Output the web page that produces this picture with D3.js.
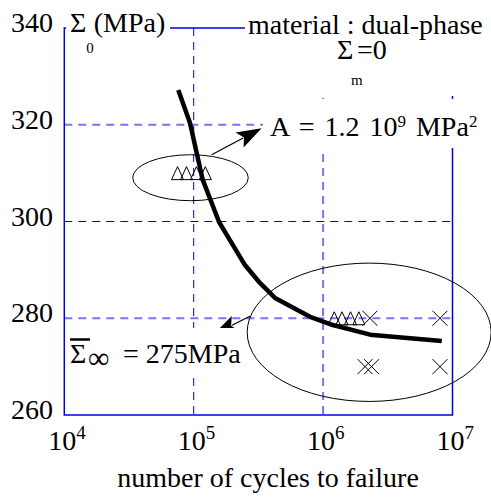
<!DOCTYPE html>
<html><head><meta charset="utf-8">
<script src="https://cdn.jsdelivr.net/npm/d3@7/dist/d3.min.js"></script>
<style>body{margin:0;background:#fff}svg{display:block}</style>
</head><body>
<script>
// ---- data ----
const xTicks = [1e4, 1e5, 1e6, 1e7];
const xTickExp = ["4", "5", "6", "7"];
const yTicks = [260, 280, 300, 320, 340];
const curveN = [76000, 93500, 117500, 157000, 180600, 249000, 325000, 425000, 793000, 1190000, 2310000, 8260000];
const curveS = [327.2, 320.4, 308.6, 299.9, 297.2, 291.0, 287.3, 284.2, 280.3, 278.6, 276.6, 275.3];
const tri310N = [75000, 88000, 105000, 123000];
const tri310S = [310, 310, 310, 310];
const tri280N = [1220000, 1400000, 1630000, 1890000];
const tri280S = [280, 280, 280, 280];
const crossN = [2300000, 8000000, 2110000, 2370000, 8000000];
const crossS = [280, 280, 270, 270, 270];

// ---- layout ----
const W = 491, H = 504;
const x = d3.scaleLog().domain([1e4, 1e7]).range([64.3, 452.5]);
const y = d3.scaleLinear().domain([260, 340]).range([415, 28]);
const FS = 28;
const FONT = '"Liberation Serif"';

const svg = d3.select("body").append("svg").attr("width", W).attr("height", H);

// grid lines
const gridDark = "#0000c8", gridLight = "#7777ee";
function hgrid(v, col, w) {
  svg.append("line").attr("x1", x(1e4)).attr("x2", x(1e7)).attr("y1", y(v)).attr("y2", y(v))
    .attr("stroke", col).attr("stroke-width", w).attr("stroke-dasharray", "8,6");
}
function vgrid(n, col, w) {
  svg.append("line").attr("x1", x(n)).attr("x2", x(n)).attr("y1", y(340)).attr("y2", y(260))
    .attr("stroke", col).attr("stroke-width", w).attr("stroke-dasharray", "8,6");
}
hgrid(320, gridLight, 2);
hgrid(300, gridDark, 1);
hgrid(280, gridLight, 2);
vgrid(1e5, gridDark, 1);
vgrid(1e6, gridLight, 2);

// frame
svg.append("rect").attr("x", x(1e4)).attr("y", y(340)).attr("width", x(1e7) - x(1e4)).attr("height", y(260) - y(340))
  .attr("fill", "none").attr("stroke", "#0000e6").attr("stroke-width", 1.5);

function txt(sel) { return sel.style("font-family", FONT).attr("fill", "#000"); }

// y tick labels
txt(svg.selectAll(".yt").data(yTicks).enter().append("text"))
  .attr("x", 53).attr("y", d => y(d) + 4).attr("text-anchor", "end").attr("font-size", FS).text(d => d);

// x tick labels
const xt = txt(svg.selectAll(".xt").data(xTicks).enter().append("text"))
  .attr("x", d => x(d) - 16).attr("y", 450).attr("font-size", FS);
xt.append("tspan").text("10");
xt.append("tspan").attr("dy", -11).attr("font-size", 19).text((d, i) => xTickExp[i]);

txt(svg.append("text")).attr("x", 268).attr("y", 487).attr("text-anchor", "middle")
  .attr("font-size", FS).text("number of cycles to failure");

// ellipses (data extents)
function ellipse(n0, n1, s0, s1) {
  const cx = (x(n0) + x(n1)) / 2, cy = (y(s0) + y(s1)) / 2;
  svg.append("ellipse").attr("cx", cx).attr("cy", cy)
    .attr("rx", Math.abs(x(n1) - x(n0)) / 2).attr("ry", Math.abs(y(s1) - y(s0)) / 2)
    .attr("fill", "none").attr("stroke", "#000").attr("stroke-width", 1);
}
ellipse(33800, 264000, 313.8, 304.3);
ellipse(259000, 1.99e7, 291.4, 262.8);

// triangles
function triangles(ns, ss) {
  svg.selectAll(null).data(ns).enter().append("path")
    .attr("d", (d, i) => {
      const cx = x(d), cy = y(ss[i]);
      return `M${cx - 6},${cy + 6.5}L${cx},${cy - 6.5}L${cx + 6},${cy + 6.5}Z`;
    })
    .attr("fill", "none").attr("stroke", "#000").attr("stroke-width", 1);
}
triangles(tri310N, tri310S);
triangles(tri280N, tri280S);

// crosses
svg.selectAll(".cr").data(crossN).enter().append("path")
  .attr("d", (d, i) => {
    const cx = x(d), cy = y(crossS[i]), r = 7.5;
    return `M${cx - r},${cy - r}L${cx + r},${cy + r}M${cx - r},${cy + r}L${cx + r},${cy - r}`;
  })
  .attr("stroke", "#000").attr("stroke-width", 1).attr("fill", "none");

// curve
const pts = curveN.map((n, i) => [n, curveS[i]]);
svg.append("path").datum(pts)
  .attr("d", d3.line().x(d => x(d[0])).y(d => y(d[1])))
  .attr("fill", "none").attr("stroke", "#000").attr("stroke-width", 4.5).attr("stroke-linejoin", "round");

// arrows
function arrow(n0, s0, n1, s1) {
  const x0 = x(n0), y0 = y(s0), x1 = x(n1), y1 = y(s1);
  const a = Math.atan2(y1 - y0, x1 - x0), L = 25, hw = 8.5;
  const bx = x1 - L * Math.cos(a), by = y1 - L * Math.sin(a);
  svg.append("line").attr("x1", x0).attr("y1", y0).attr("x2", bx + 4 * Math.cos(a)).attr("y2", by + 4 * Math.sin(a))
    .attr("stroke", "#000").attr("stroke-width", 1.2);
  const p1 = [bx + hw * Math.sin(a), by - hw * Math.cos(a)];
  const p2 = [bx - hw * Math.sin(a), by + hw * Math.cos(a)];
  const nx = x1 - 0.8 * L * Math.cos(a), ny = y1 - 0.8 * L * Math.sin(a);
  svg.append("path").attr("d", `M${x1},${y1}L${p1}L${nx},${ny}L${p2}Z`).attr("fill", "#000");
}
arrow(137700, 313.8, 335000, 319.3);
arrow(272000, 280.4, 141500, 276.6);

// text boxes (white backgrounds)
svg.append("rect").attr("x", 66).attr("y", 4).attr("width", 104).attr("height", 54).attr("fill", "#fff");
svg.append("rect").attr("x", 245).attr("y", 0).attr("width", 246).attr("height", 96).attr("fill", "#fff");
svg.append("rect").attr("x", 263).attr("y", 99).attr("width", 228).attr("height", 49).attr("fill", "#fff");
svg.append("rect").attr("x", 68).attr("y", 328).attr("width", 176).attr("height", 47).attr("fill", "#fff");

// Σ0(MPa)
const t1 = txt(svg.append("text")).attr("x", 70).attr("y", 32).attr("font-size", FS);
t1.append("tspan").text("Σ");
t1.append("tspan").attr("dy", 21).attr("font-size", 15).text("0");
t1.append("tspan").attr("dy", -21).text("(MPa)");

// material
txt(svg.append("text")).attr("x", 248).attr("y", 34).attr("font-size", FS).text("material : dual-phase");
txt(svg.append("text")).attr("x", 337).attr("y", 58.5).attr("font-size", FS).text("Σ");
txt(svg.append("text")).attr("x", 351).attr("y", 85).attr("font-size", 15).text("m");
txt(svg.append("text")).attr("x", 357).attr("y", 58.5).attr("font-size", FS).text("=0");

// A = 1.2 10^9 MPa^2
const t3 = txt(svg.append("text")).attr("x", 270).attr("y", 136).attr("font-size", FS).style("word-spacing", "3px");
t3.append("tspan").text("A = 1.2 10");
t3.append("tspan").attr("dy", -9).attr("font-size", 17).text("9");
t3.append("tspan").attr("dy", 9).text(" MPa");
t3.append("tspan").attr("dy", -9).attr("font-size", 17).text("2");

// Σ∞ = 275MPa
txt(svg.append("text")).attr("x", 70).attr("y", 363).attr("font-size", FS).text("Σ");
txt(svg.append("text")).attr("x", 88).attr("y", 368).attr("font-size", 30).text("∞");
txt(svg.append("text")).attr("x", 123).attr("y", 363).attr("font-size", FS).text("= 275MPa");
svg.append("line").attr("x1", 70).attr("x2", 90).attr("y1", 339.5).attr("y2", 339.5).attr("stroke", "#000").attr("stroke-width", 2.5);
</script>
</body></html>
